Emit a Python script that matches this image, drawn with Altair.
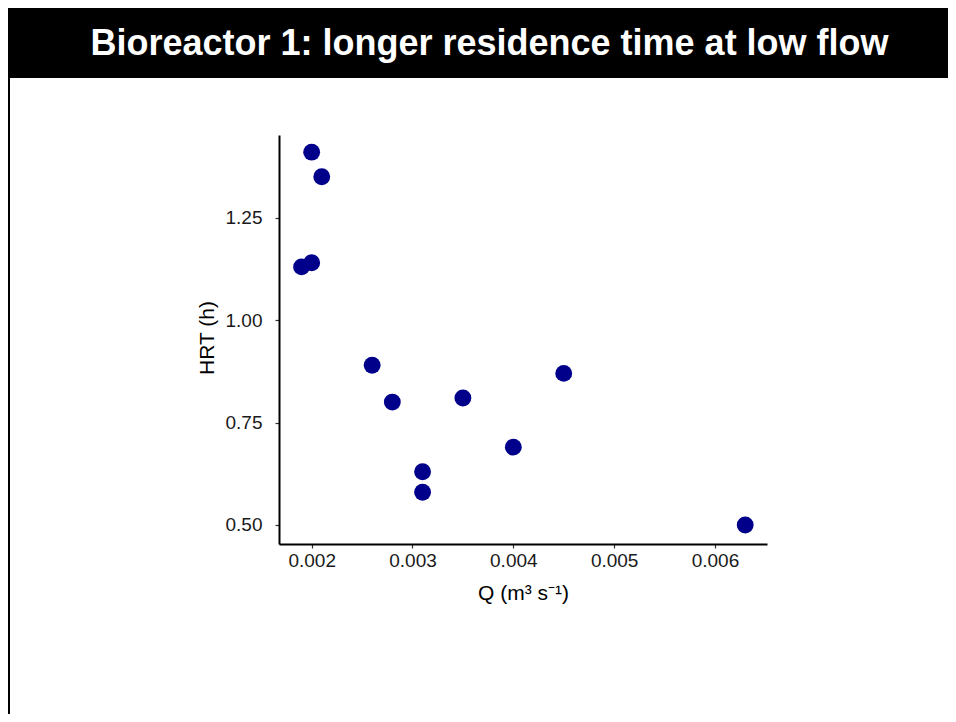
import altair as alt
import pandas as pd

# Data
q_flow = [0.0020, 0.0021, 0.0019, 0.0020, 0.0026, 0.0028, 0.0031, 0.0031, 0.0035, 0.0040, 0.0045, 0.0063]
hrt = [1.41, 1.35, 1.13, 1.14, 0.89, 0.80, 0.63, 0.58, 0.81, 0.69, 0.87, 0.50]
x_ticks = [0.002, 0.003, 0.004, 0.005, 0.006]
y_ticks = [0.50, 0.75, 1.00, 1.25]
title_text = "Bioreactor 1: longer residence time at low flow"

df = pd.DataFrame({"Q": q_flow, "HRT": hrt})
one = pd.DataFrame({"t": [title_text]})

W, H = 488, 409
PL, PT = 271, 127
TOTAL_W, TOTAL_H = 940, 706

FONT = "Liberation Sans"

points = alt.Chart(df).mark_circle(size=285, color="#00008B", opacity=1).encode(
    x=alt.X(
        "Q:Q",
        scale=alt.Scale(domain=[0.001676, 0.006516], nice=False, zero=False),
        axis=alt.Axis(
            values=x_ticks,
            format=".3f",
            title="Q (m³ s⁻¹)",
            titleFontSize=21,
            titleFont=FONT,
            titleFontWeight="normal",
            titleColor="#000000",
            titleBaseline="alphabetic",
            titleY=55,
            labelFontSize=19,
            labelFont=FONT,
            labelColor="#1a1a1a",
            labelPadding=3,
            tickSize=4,
            tickWidth=1.2,
            tickColor="#333333",
            domainColor="#000000",
            domainWidth=2,
            grid=False,
        ),
    ),
    y=alt.Y(
        "HRT:Q",
        scale=alt.Scale(domain=[0.4536, 1.4519], nice=False, zero=False),
        axis=alt.Axis(
            values=y_ticks,
            format=".2f",
            title="HRT (h)",
            titleFontSize=21,
            titleFont=FONT,
            titleFontWeight="normal",
            titleColor="#000000",
            titleAngle=270,
            titleAlign="center",
            titleBaseline="middle",
            titleX=-72,
            titleY=H / 2 - 2,
            labelFontSize=19,
            labelFont=FONT,
            labelColor="#1a1a1a",
            labelPadding=13,
            tickSize=4,
            tickWidth=1.2,
            tickColor="#333333",
            domainColor="#000000",
            domainWidth=2,
            grid=False,
        ),
    ),
)

bar = alt.Chart(one).mark_rect(color="#000000").encode(
    x=alt.value(-PL),
    x2=alt.value(TOTAL_W - PL),
    y=alt.value(-PT),
    y2=alt.value(78 - 135),
)

left_line = alt.Chart(one).mark_rule(color="#000000", strokeWidth=2).encode(
    x=alt.value(-PL + 1),
    y=alt.value(78 - 135),
    y2=alt.value(TOTAL_H - PT),
)

title = alt.Chart(one).mark_text(
    font=FONT,
    fontSize=36,
    fontWeight="bold",
    color="#FFFFFF",
    align="center",
    baseline="alphabetic",
).encode(
    text="t:N",
    x=alt.value(489.5 - 279),
    y=alt.value(55 - 135),
)

chart = alt.layer(bar, left_line, title, points).properties(
    width=W,
    height=H,
    autosize="none",
    padding={"left": PL, "top": PT, "right": TOTAL_W - PL - W, "bottom": TOTAL_H - PT - H},
    background="#FFFFFF",
).configure_view(stroke=None)

chart.save("out.html", embed_options={"renderer": "svg", "actions": False})
